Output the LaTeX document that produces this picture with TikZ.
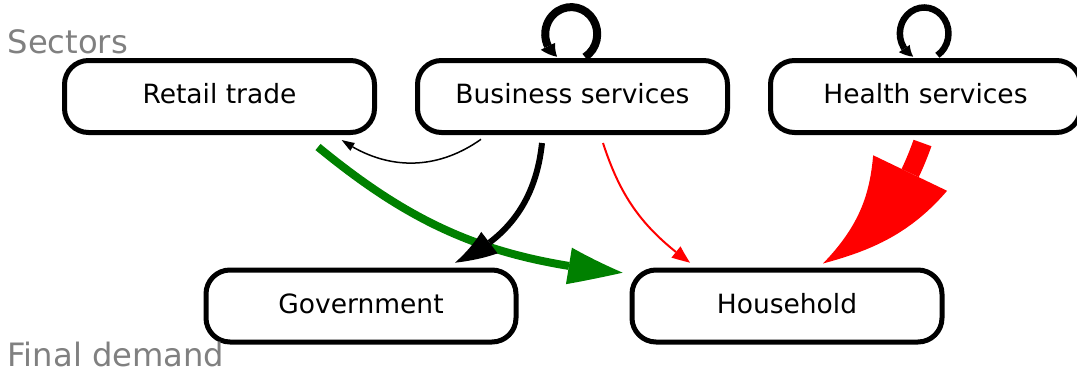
\documentclass[tikz,border=0pt]{standalone}
\usepackage{fontspec}
\setmainfont{DejaVu Sans}
\usetikzlibrary{arrows.meta,bending}
\definecolor{mplgreen}{HTML}{008000}
\definecolor{mplred}{HTML}{FF0000}
\definecolor{lblgray}{HTML}{808080}
\newcommand\myboxfont{\fontsize{26.5}{30}\selectfont}
\newcommand\mylblfont{\fontsize{32.2}{36}\selectfont}
\tikzset{
  box/.style={draw, line width=5pt, rounded corners=24pt, minimum width=310pt,
    minimum height=72pt, inner sep=0pt, font=\myboxfont, text height=19.3pt,
    text depth=5pt, fill=white},
  lbl/.style={anchor=base west, text=lblgray, font=\mylblfont, inner sep=0pt},
  flow/.style={line cap=butt}
}
\begin{document}
\begin{tikzpicture}[x=1pt,y=1pt]
\useasboundingbox (0,0) rectangle (1077,-372);
\node[box] (retail) at (219.5,-96.5) {Retail trade};
\node[box] (business) at (572.5,-96.5) {Business services};
\node[box] (health) at (925.5,-96.5) {Health services};
\node[box] (gov) at (361,-306) {Government};
\node[box] (house) at (787,-306) {Household};
\node[lbl] (sectors) at (7.5,-53.3) {Sectors};
\node[lbl] (final) at (7.5,-366.7) {Final demand};
% Retail -> Household (green)
\draw[flow, line width=8pt, mplgreen, -{Triangle[length=57pt,width=37pt,line width=0pt,bend]}]
  ([shift={(98.5,-50.5)}]retail.center) to[bend right=17] ([shift={(-164.3,33.3)}]house.center);
% Business -> Government (thick black)
\draw[flow, line width=6pt, black, -{Triangle[length=42pt,width=27pt,line width=0pt,bend]}]
  ([shift={(-30.5,-46.5)}]business.center) to[bend left=30] ([shift={(94,43.3)}]gov.center);
% Business -> Household (thin red)
\draw[flow, line width=2pt, mplred, -{Triangle[length=18pt,width=14.5pt,line width=0pt,bend]}]
  ([shift={(30.5,-46.5)}]business.center) to[bend right=18] ([shift={(-97,43.3)}]house.center);
% Business -> Retail (thin black)
\draw[flow, line width=1.5pt, black, -{Triangle[length=13pt,width=9pt,line width=0pt,bend]}]
  ([shift={(-91.5,-42.8)}]business.center) to[bend left=35] ([shift={(122.2,-43.5)}]retail.center);
% Health -> Household (big red)
\draw[flow, line width=19pt, mplred, -{Triangle[length=146pt,width=82pt,line width=0pt,bend]}]
  ([shift={(-3,-46.5)}]health.center) to[bend left=20] ([shift={(36,42.5)}]house.center);
% self loops
\draw[flow, line width=8pt, black, -{Triangle[length=14pt,width=16pt,line width=0pt,bend]}]
  ([shift={(12.5,39.5)}]business.center) arc[start angle=-58, end angle=237, x radius=26, y radius=27];
\draw[flow, line width=6.5pt, black, -{Triangle[length=12pt,width=13pt,line width=0pt,bend]}]
  ([shift={(11.9,41.2)}]health.center) arc[start angle=-57, end angle=243, x radius=24.3, y radius=26];
\end{tikzpicture}
\end{document}
